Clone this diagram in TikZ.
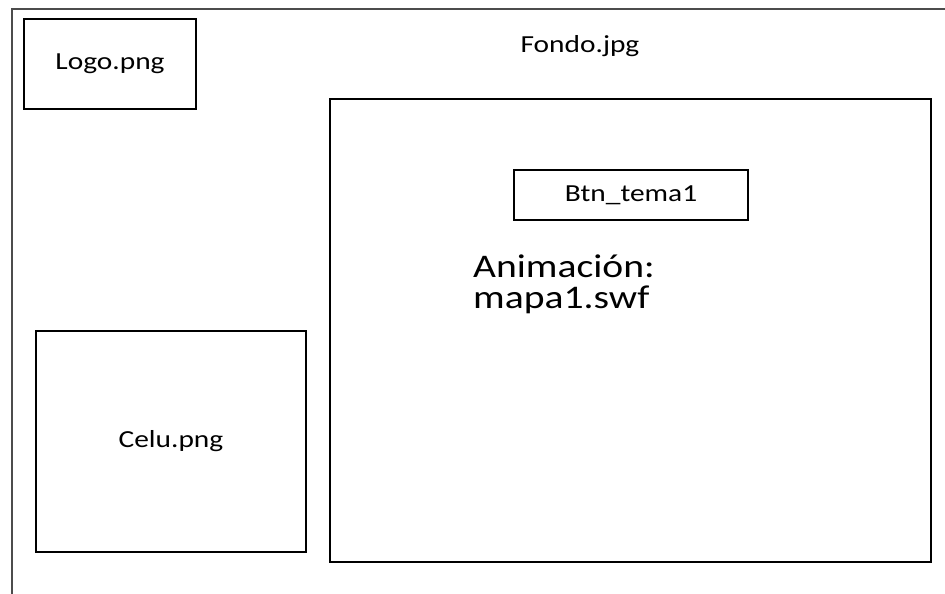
\documentclass[tikz,border=0pt]{standalone}
\usepackage{fontspec}
\setmainfont[FakeStretch=1.2]{Carlito}
\usetikzlibrary{positioning}

\begin{document}
\begin{tikzpicture}[
  x=1pt, y=-1pt,
  marco/.style={line width=1.3pt, black!70},
  caja/.style={draw, line width=1.2pt, inner sep=0pt, font=\fontsize{24.5}{28}\selectfont},
  texto/.style={inner sep=0pt, font=\fontsize{24.5}{28}\selectfont},
  grande/.style={inner sep=0pt, font=\fontsize{33}{31}\selectfont}
]
\useasboundingbox (0,0) rectangle (945,594);
\draw[marco] (12,594) -- (12,9) -- (945,9);

\node[caja, minimum width=172pt, minimum height=90pt] (logo) at (110,64) {Logo.png};
\node[texto] (fondo) at (580,46) {Fondo.jpg};
\node[caja, minimum width=270pt, minimum height=221pt] (celu) at (171,441.5) {Celu.png};
\node[caja, minimum width=601pt, minimum height=463pt] (escena) at (630.5,330.5) {};
\node[caja, minimum width=234pt, minimum height=50pt] (btn) at (631,195) {Btn\_tema1};
\node[grande, anchor=base west] (anim) at (473,277) {Animación:};
\node[grande, anchor=base west] (mapa) at (473,308) {mapa1.swf};
\end{tikzpicture}
\end{document}
